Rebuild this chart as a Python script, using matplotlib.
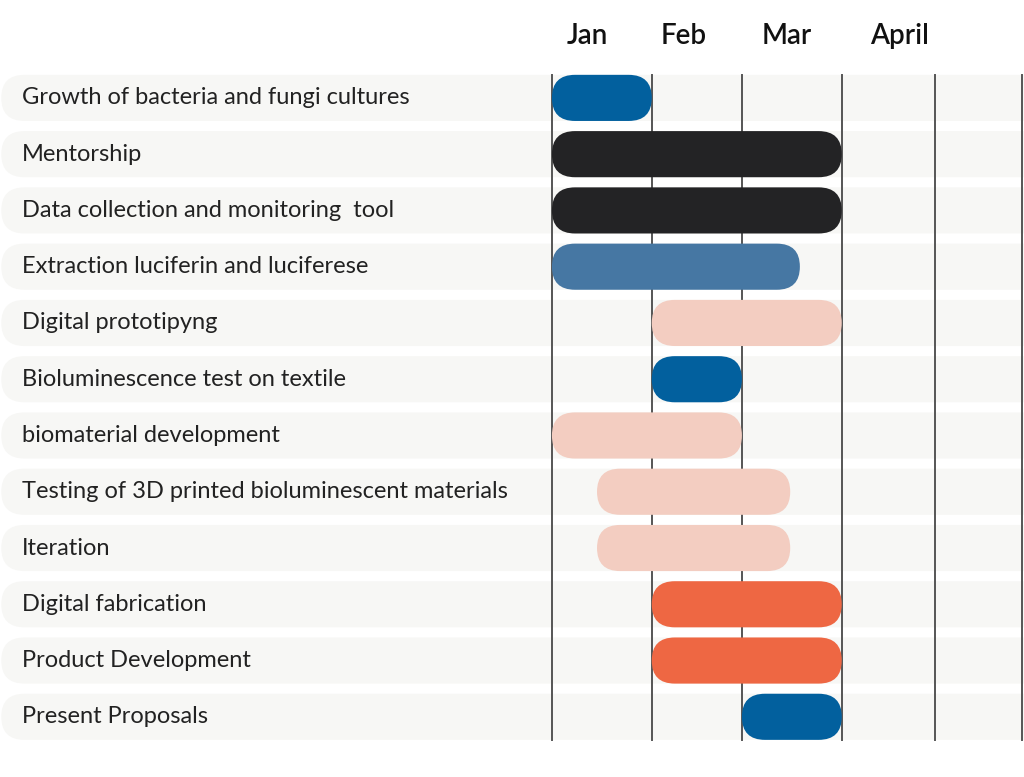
import matplotlib.pyplot as plt
from matplotlib.patches import FancyBboxPatch
from matplotlib.transforms import blended_transform_factory

# tasks, top to bottom; start / end in days from 1 Jan
tasks = [
    "Growth of bacteria and fungi cultures",
    "Mentorship",
    "Data collection and monitoring  tool",
    "Extraction luciferin and luciferese",
    "Digital prototipyng",
    "Bioluminescence test on textile",
    "biomaterial development",
    "Testing of 3D printed bioluminescent materials",
    "Iteration",
    "Digital fabrication",
    "Product Development",
    "Present Proposals",
]
start = [0, 0, 0, 0, 31, 31, 0, 14, 14, 31, 31, 59]
end = [31, 90, 90, 77, 90, 59, 59, 74, 74, 90, 90, 90]
colors = ["#02609e", "#232325", "#232325", "#4677a3", "#f3cdc1", "#02609e",
          "#f3cdc1", "#f3cdc1", "#f3cdc1", "#ee6743", "#ee6743", "#02609e"]

months = ["Jan", "Feb", "Mar", "April"]
month_label_pos = [11, 41, 73, 108]
month_lines = [0, 31, 59, 90, 119, 146]

plt.rcParams['font.family'] = ['Lato', 'DejaVu Sans']

fig = plt.figure(figsize=(10.24, 7.77), dpi=100)
ax = fig.add_axes([0, 0, 1, 1])
ax.set_xlim(-171.4, 146.6)
ax.set_ylim(12.07, -1.74)
ax.axis('off')

# aspect so rounded ends come out as half circles
x0, y0 = ax.transData.transform((0, 0))
x1, y1 = ax.transData.transform((1, 1))
aspect = abs(x1 - x0) / abs(y1 - y0)

bar_h = 0.82
radius = bar_h / 2 / aspect

for i in range(len(tasks)):
    # light row stripe
    bg = FancyBboxPatch((-171, i - bar_h / 2), 330, bar_h,
                        boxstyle="round,pad=0,rounding_size=%f" % radius,
                        mutation_aspect=aspect, fc="#f7f7f5", ec="none", zorder=0)
    ax.add_patch(bg)
    ax.text(22 / 1024, i, tasks[i], transform=blended_transform_factory(ax.transAxes, ax.transData),
            ha='left', va='center', fontsize=17, color='#222222')

for m in month_lines:
    ax.plot([m, m], [-bar_h / 2, len(tasks) - 1 + bar_h / 2], color='#555555', lw=1.4, zorder=1)

for i in range(len(tasks)):
    bar = FancyBboxPatch((start[i], i - bar_h / 2), end[i] - start[i], bar_h,
                         boxstyle="round,pad=0,rounding_size=%f" % radius,
                         mutation_aspect=aspect, fc=colors[i], ec="none", zorder=2)
    ax.add_patch(bar)

for m, x in zip(months, month_label_pos):
    ax.text(x, -1.1, m, ha='center', va='center', fontsize=20, fontweight='semibold', color='#111111')

fig.savefig('out.png', dpi=100)
